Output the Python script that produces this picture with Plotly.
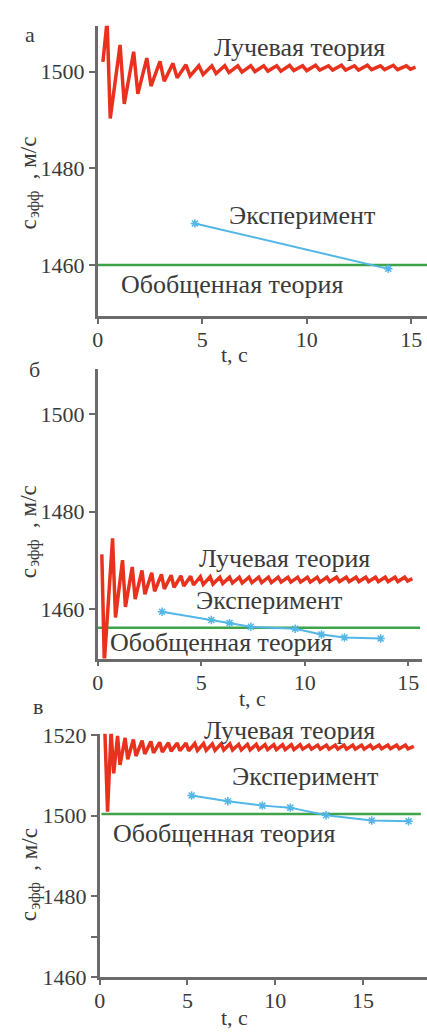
import plotly.graph_objects as go

W, H = 427, 1034

# ---------------- data ----------------
# Panel a
ray_a_t = [0.25, 0.45, 0.6, 1.07, 1.27, 1.72, 1.92, 2.35, 2.55, 2.98, 3.18, 3.6, 3.8, 4.22, 4.42,
           4.84, 5.04, 5.46, 5.66, 6.08, 6.28, 6.7, 6.9, 7.32, 7.52, 7.94, 8.14, 8.56, 8.76,
           9.18, 9.38, 9.8, 10.0, 10.42, 10.62, 11.04, 11.24, 11.66, 11.86, 12.28, 12.48,
           12.9, 13.1, 13.52, 13.72, 14.14, 14.34, 14.76, 14.96, 15.2]
ray_a_c = [1502.0, 1510.5, 1490.3, 1505.5, 1493.3, 1504.1, 1495.4, 1502.8, 1497.0, 1502.1, 1498.0,
           1501.7, 1498.7, 1501.4, 1499.1, 1501.2, 1499.4, 1501.2, 1499.6, 1501.2, 1499.8,
           1501.2, 1499.9, 1501.2, 1500.0, 1501.2, 1500.1, 1501.2, 1500.1, 1501.3, 1500.2,
           1501.2, 1500.2, 1501.3, 1500.3, 1501.2, 1500.3, 1501.3, 1500.3, 1501.2, 1500.3,
           1501.3, 1500.4, 1501.2, 1500.4, 1501.3, 1500.4, 1501.2, 1500.5, 1500.9]
exp_a_t = [4.65, 13.9]
exp_a_c = [1468.6, 1459.2]
gen_a_t = [0.0, 15.75]
gen_a_c = [1460.0, 1460.0]

# Panel b
ray_b_t = [0.2, 0.32, 0.72, 0.86, 1.2, 1.34, 1.67, 1.81, 2.14, 2.28, 2.61, 2.75, 3.08, 3.22,
           3.55, 3.69, 4.02, 4.16, 4.49, 4.63, 4.96, 5.1, 5.43, 5.57, 5.9, 6.04, 6.37, 6.51,
           6.84, 6.98, 7.31, 7.45, 7.78, 7.92, 8.25, 8.39, 8.72, 8.86, 9.19, 9.33, 9.66, 9.8,
           10.13, 10.27, 10.6, 10.74, 11.07, 11.21, 11.54, 11.68, 12.01, 12.15, 12.48, 12.62,
           12.95, 13.09, 13.42, 13.56, 13.89, 14.03, 14.36, 14.5, 14.83, 14.97, 15.2]
ray_b_c = [1471.2, 1449.0, 1474.5, 1458.2, 1470.0, 1460.4, 1468.6, 1462.0, 1467.9, 1463.0,
           1467.4, 1463.6, 1467.1, 1464.1, 1466.9, 1464.4, 1466.8, 1464.7, 1466.7, 1464.9,
           1466.6, 1465.0, 1466.6, 1465.1, 1466.5, 1465.2, 1466.5, 1465.3, 1466.5, 1465.3,
           1466.5, 1465.4, 1466.5, 1465.4, 1466.5, 1465.4, 1466.5, 1465.5, 1466.5, 1465.5,
           1466.5, 1465.5, 1466.5, 1465.5, 1466.5, 1465.5, 1466.5, 1465.6, 1466.5, 1465.6,
           1466.5, 1465.6, 1466.5, 1465.6, 1466.5, 1465.6, 1466.5, 1465.6, 1466.5, 1465.6,
           1466.5, 1465.6, 1466.5, 1465.7, 1466.2]
exp_b_t = [3.11, 5.49, 6.37, 7.4, 9.54, 10.81, 11.92, 13.67]
exp_b_c = [1459.4, 1457.7, 1457.1, 1456.3, 1455.9, 1454.7, 1454.1, 1453.9]
gen_b_t = [0.0, 15.57]
gen_b_c = [1456.1, 1456.1]

# Panel c
ray_c_t = [0.18, 0.3, 0.45, 0.65, 0.8, 1.02, 1.16, 1.45, 1.6, 1.92, 2.07, 2.42, 2.57, 2.92, 3.07,
           3.42, 3.57, 3.92, 4.07, 4.42, 4.57, 4.92, 5.07, 5.42, 5.57, 5.92, 6.07, 6.42, 6.57,
           6.92, 7.07, 7.42, 7.57, 7.92, 8.07, 8.42, 8.57, 8.92, 9.07, 9.42, 9.57, 9.92, 10.07,
           10.42, 10.57, 10.92, 11.07, 11.42, 11.57, 11.92, 12.07, 12.42, 12.57, 12.92, 13.07,
           13.42, 13.57, 13.92, 14.07, 14.42, 14.57, 14.92, 15.07, 15.42, 15.57, 15.92, 16.07,
           16.42, 16.57, 16.92, 17.07, 17.42, 17.57, 17.9]
ray_c_c = [1521.5, 1520.5, 1501.0, 1521.0, 1510.5, 1519.8, 1512.6, 1519.3, 1514.0, 1518.9, 1514.8,
           1518.6, 1515.3, 1518.4, 1515.6, 1518.2, 1515.8, 1518.1, 1516.0, 1518.0, 1516.1,
           1518.0, 1516.1, 1517.9, 1516.2, 1517.9, 1516.2, 1517.8, 1516.2, 1517.8, 1516.3,
           1517.8, 1516.3, 1517.7, 1516.3, 1517.7, 1516.3, 1517.7, 1516.4, 1517.6, 1516.4,
           1517.6, 1516.4, 1517.6, 1516.4, 1517.6, 1516.4, 1517.6, 1516.5, 1517.5, 1516.5,
           1517.5, 1516.5, 1517.5, 1516.5, 1517.5, 1516.5, 1517.5, 1516.5, 1517.5, 1516.5,
           1517.5, 1516.5, 1517.5, 1516.6, 1517.5, 1516.6, 1517.5, 1516.6, 1517.5, 1516.6,
           1517.5, 1516.6, 1517.2]
exp_c_t = [5.24, 7.3, 9.27, 10.86, 12.9, 15.5, 17.6]
exp_c_c = [1505.0, 1503.6, 1502.5, 1502.0, 1500.1, 1498.8, 1498.6]
gen_c_t = [0.1, 18.3]
gen_c_c = [1500.4, 1500.4]

x_ticks_ab = [0, 5, 10, 15]
x_ticks_c = [0, 5, 10, 15]
y_ticks_ab = [1460, 1480, 1500]
y_ticks_c = [1460, 1480, 1500, 1520]
y_minor_c = [1470]

label_ray = "Лучевая теория"
label_exp = "Эксперимент"
label_gen = "Обобщенная теория"
panel_labels = ["а", "б", "в"]
y_title_main = "c"
y_title_sub = "эфф"
y_title_unit = ", м/с"
x_title = "t, c"

# ---------------- styling ----------------
RED = "#e8321e"
BLUE = "#52b6e6"
GREEN = "#3fa34a"
AX = "#6b6b6b"
TXT = "#3a3a3a"
FONT = "Liberation Serif"


def px(x):
    return x / W


def py(y):
    return 1 - y / H


fig = go.Figure()

panels = [
    ("x", "y", ray_a_t, ray_a_c, exp_a_t, exp_a_c, gen_a_t, gen_a_c),
    ("x2", "y2", ray_b_t, ray_b_c, exp_b_t, exp_b_c, gen_b_t, gen_b_c),
    ("x3", "y3", ray_c_t, ray_c_c, exp_c_t, exp_c_c, gen_c_t, gen_c_c),
]
for xa, ya, rt, rc, et, ec, gt, gc in panels:
    fig.add_trace(go.Scatter(x=gt, y=gc, mode="lines", xaxis=xa, yaxis=ya,
                             line=dict(color=GREEN, width=2.5), showlegend=False))
    fig.add_trace(go.Scatter(x=et, y=ec, mode="lines+markers", xaxis=xa, yaxis=ya,
                             line=dict(color=BLUE, width=2),
                             marker=dict(symbol="asterisk-open", size=7,
                                         line=dict(color=BLUE, width=1.5)),
                             showlegend=False))
    fig.add_trace(go.Scatter(x=rt, y=rc, mode="lines", xaxis=xa, yaxis=ya,
                             line=dict(color=RED, width=3.5), showlegend=False))

tickfont = dict(family=FONT, size=22, color=TXT)


def xaxis(domain, rng, anchor, tickvals):
    return dict(domain=domain, range=rng, anchor=anchor, tickvals=tickvals,
                ticks="outside", ticklen=5, tickwidth=2, tickcolor=AX,
                showline=True, linecolor=AX, linewidth=2.5, showgrid=False,
                zeroline=False, tickfont=tickfont, ticklabelstandoff=-3)


def yaxis(domain, rng, anchor, tickvals, minor_vals=None):
    d = dict(domain=domain, range=rng, anchor=anchor, tickvals=tickvals,
             ticks="outside", ticklen=6, tickwidth=2, tickcolor=AX,
             showline=True, linecolor=AX, linewidth=2.5, showgrid=False,
             zeroline=False, tickfont=tickfont, ticklabelstandoff=0)
    if minor_vals is not None:
        d["minor"] = dict(tickvals=minor_vals, ticks="outside", ticklen=6,
                          tickwidth=2, tickcolor=AX, showgrid=False)
    return d


fig.update_layout(
    width=W, height=H,
    margin=dict(l=0, r=0, t=0, b=0),
    paper_bgcolor="white", plot_bgcolor="white",
    showlegend=False,
    xaxis=xaxis([px(93), 1.0], [0, 15.75], "y", x_ticks_ab),
    yaxis=yaxis([py(312), py(15)], [1449.5, 1509.5], "x", y_ticks_ab),
    xaxis2=xaxis([px(93), px(422)], [0, 15.67], "y2", x_ticks_ab),
    yaxis2=yaxis([py(663), py(367)], [1449.75, 1509.25], "x2", y_ticks_ab),
    xaxis3=xaxis([px(95), 1.0], [0, 18.65], "y3", x_ticks_c),
    yaxis3=yaxis([py(989), py(740)], [1460, 1520.3], "x3", y_ticks_c, y_minor_c),
)

ann = []


def add_text(text, x, y, size=26, angle=0):
    ann.append(dict(text=text, x=px(x), y=py(y), xref="paper", yref="paper",
                    xanchor="center", yanchor="middle", showarrow=False,
                    textangle=angle, font=dict(family=FONT, size=size, color=TXT)))


# panel a
add_text(label_ray, 298, 37)
add_text(label_exp, 300, 209)
add_text(label_gen, 229, 280)
# panel b
add_text(label_ray, 282, 561)
add_text(label_exp, 267, 604)
add_text(label_gen, 218, 646)
# panel c
add_text(label_ray, 288, 737)
add_text(label_exp, 303, 784)
add_text(label_gen, 221, 842)

# panel letters
add_text(panel_labels[0], 24, 24, size=22)
add_text(panel_labels[1], 29, 367, size=22)
add_text(panel_labels[2], 32, 712, size=22)

# y titles (c_эфф , м/с), rotated
for dy in (0, 357, 708):
    add_text(y_title_main, 23, 219 + dy, size=23, angle=-90)
    add_text(y_title_sub, 29, 198 + dy, size=16, angle=-90)
    add_text(y_title_unit, 23, 150 + dy, size=23, angle=-90)

# x titles
add_text(x_title, 232, 352, size=22)
add_text(x_title, 250, 704, size=22)
add_text(x_title, 232, 1030, size=22)

fig.update_layout(annotations=ann)

fig.write_html("out.html")
